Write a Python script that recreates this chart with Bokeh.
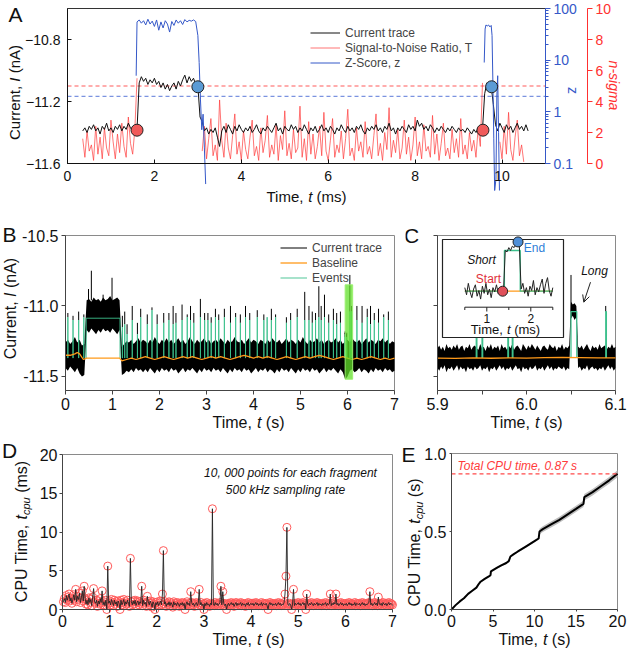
import math
import numpy as np
from bokeh.plotting import figure
from bokeh.layouts import column, row
from bokeh.models import (Range1d, LinearAxis, LogAxis, LogScale, FixedTicker, Label,
                          Legend, LegendItem, PrintfTickFormatter, CustomJSTickFormatter,
                          Arrow, OpenHead)
from bokeh.embed import file_html
from bokeh.resources import INLINE

FONT = "Liberation Sans"
BLACK = "#111111"
RED = "#ff3030"
BLUE = "#3558c8"
ORANGE = "#ff9a1a"
GREEN = "#3cc08c"

# ---------------------------------------------------------------- data
# A: one fragment, current / SNR sampled every 0.05 ms starting at 0.35 ms
A_T0, A_DT = 0.35, 0.05
A_current = [
    -11.39, -11.37, -11.40, -11.36, -11.38, -11.35, -11.39, -11.37, -11.41, -11.36,
    -11.38, -11.34, -11.39, -11.37, -11.40, -11.36, -11.38, -11.35, -11.39, -11.36,
    -11.38, -11.34, -11.37, -11.39, -11.38,
    -11.38,
    -11.08, -11.04, -11.07, -11.05, -11.09, -11.06, -11.08, -11.05, -11.09, -11.07,
    -11.11, -11.08, -11.12, -11.09, -11.13, -11.10, -11.08, -11.12, -11.07, -11.10,
    -11.06, -11.03, -11.08, -11.04, -11.07, -11.05, -11.09,
    -11.10, -11.30,
    -11.33, -11.39, -11.37, -11.41, -11.38, -11.40, -11.37, -11.43, -11.49, -11.39,
    -11.36, -11.40, -11.35, -11.38, -11.41, -11.36, -11.39, -11.35, -11.38, -11.40,
    -11.37, -11.39, -11.36, -11.40, -11.38, -11.35, -11.39, -11.41, -11.37, -11.39,
    -11.36, -11.38, -11.40, -11.37, -11.34, -11.39, -11.37, -11.41, -11.36, -11.38,
    -11.39, -11.35, -11.38, -11.36, -11.40, -11.37, -11.39, -11.35, -11.38, -11.41,
    -11.37, -11.39, -11.36, -11.40, -11.38, -11.35, -11.39, -11.37, -11.40, -11.36,
    -11.38, -11.41, -11.37, -11.39, -11.35, -11.38, -11.40, -11.36, -11.39, -11.37,
    -11.40, -11.36, -11.38, -11.35, -11.39, -11.41, -11.37, -11.39, -11.36, -11.38,
    -11.35, -11.39, -11.37, -11.40, -11.36, -11.38, -11.34, -11.39, -11.37, -11.41,
    -11.37, -11.39, -11.36, -11.38, -11.40, -11.35, -11.38, -11.36, -11.39, -11.32,
    -11.36, -11.34, -11.38, -11.36, -11.39, -11.35, -11.37, -11.40, -11.37, -11.39,
    -11.36, -11.38, -11.40, -11.37, -11.39, -11.36, -11.38, -11.40, -11.37, -11.39,
    -11.38, -11.40, -11.37, -11.39, -11.41, -11.38, -11.40, -11.37, -11.39,
    -11.38, -11.15, -11.08, -11.09, -11.10, -11.22, -11.35, -11.39, -11.34, -11.37,
    -11.40, -11.35, -11.38, -11.36, -11.40, -11.37, -11.34, -11.38, -11.36, -11.39,
    -11.35, -11.39,
]
A_snr = ([
    1.6, 0.4, 2.1, 0.8, 1.2, 0.2, 2.4, 0.6, 1.7, 0.3,
    2.3, 1.0, 0.5, 2.8, 1.4, 0.3, 1.9, 0.7, 2.6, 1.1,
    0.4, 3.0, 1.3, 0.6, 2.2,
    5.5] + [None] * 29 + [
    0.8, 2.4, 0.3, 1.6, 2.9, 0.5, 1.2, 0.2, 4.1, 1.5,
    0.4, 2.6, 1.0, 0.3, 1.8, 3.2, 0.6, 1.4, 0.2, 2.1,
    0.9, 0.3, 1.7, 2.8, 0.5, 1.1, 0.2, 2.3, 0.7, 1.5,
    3.1, 0.4, 1.2, 0.6, 2.5, 0.2, 1.8, 0.9, 3.4, 0.5,
    1.3, 0.3, 2.2, 0.7, 1.0, 3.7, 0.4, 1.6, 0.2, 2.7,
    0.6, 1.9, 0.3, 1.1, 2.4, 0.5, 3.3, 0.8, 0.2, 1.5,
    2.9, 0.4, 1.2, 0.7, 2.1, 0.3, 1.6, 3.5, 0.5, 1.0,
    0.2, 2.3, 0.8, 1.4, 0.4, 2.7, 0.6, 1.1, 0.3, 1.8,
    3.2, 0.5, 1.3, 0.2, 2.0, 0.9, 3.6, 0.4, 1.5, 0.7,
    2.2, 0.3, 1.0, 2.8, 0.6, 1.7, 0.2, 1.2, 3.0, 0.5,
    1.4, 0.3, 2.5, 0.8, 1.1, 0.4, 3.1, 0.6, 1.9, 0.2,
    1.3, 2.6, 0.5, 1.0, 0.3, 2.2, 0.7, 1.6, 0.4, 2.9,
    0.6, 1.2, 0.3, 2.0, 0.8, 1.5, 0.4, 2.3, 1.1,
    5.2] + [None] * 7 + [
    1.4, 0.3, 2.4, 0.6, 3.3, 0.9, 0.2, 1.7, 2.8, 0.5, 1.2,
    0.1, None, None])
A_z_t = [1.58, 1.60, 1.65, 1.70, 1.75, 1.80, 1.85, 1.90, 1.95, 2.00, 2.05, 2.10, 2.15,
         2.20, 2.25, 2.30, 2.35, 2.40, 2.45, 2.50, 2.55, 2.60, 2.65, 2.70, 2.75, 2.80,
         2.85, 2.90, 2.95, 3.00, 3.03, 3.06, 3.09, 3.12, 3.15, 3.18, None,
         9.59, 9.61, 9.63, 9.66, 9.69, 9.72, 9.75, 9.77, 9.79, 9.81, 9.83, 9.86, 9.88,
         9.90, 9.92, 9.94]
A_z = [5.0, 55, 60, 52, 58, 48, 62, 50, 57, 45, 60, 38, 55, 42, 58, 50, 35, 56, 47, 60,
       52, 58, 49, 61, 55, 59, 57, 60, 56, 30, 9, 1.7, 0.45, 0.9, 0.2, 0.04, None,
       9, 40, 48, 46, 48, 44, 47, 30, 3.5, 0.3, 0.03, 0.05, 2, 5, 0.4, 0.03]
A_start_t, A_start_i = [1.60, 9.56], [-11.385, -11.385]
A_end_t, A_end_i = [3.00, 9.76], [-11.105, -11.105]
A_SNR_THRESHOLD = 5.0
A_Z_THRESHOLD = 2.0

# B: 7 s record, envelope of the current band every 0.05 s
B_DT = 0.05
B_hi = [
    -11.26, -11.24, -11.27, -11.25, -11.22, -11.26, -11.24, -11.28, -11.27,
    -10.96, -10.95, -10.97, -10.94, -10.96, -10.95, -10.97, -10.94, -10.96, -10.95,
    -10.93, -10.96, -10.95, -10.94, -10.96,
    -11.29, -11.27, -11.25, -11.26, -11.24, -11.27, -11.25, -11.23, -11.26, -11.24,
    -11.25, -11.27, -11.24, -11.26, -11.22, -11.25, -11.27, -11.24, -11.26, -11.23,
    -11.26, -11.24, -11.27, -11.25, -11.23, -11.26, -11.24, -11.27, -11.25, -11.22,
    -11.25, -11.27, -11.24, -11.26, -11.25, -11.23, -11.26, -11.24, -11.27, -11.25,
    -11.24, -11.26, -11.23, -11.25, -11.27, -11.24, -11.26, -11.25, -11.22, -11.25,
    -11.26, -11.24, -11.27, -11.25, -11.23, -11.26, -11.24, -11.25, -11.27, -11.24,
    -11.25, -11.27, -11.24, -11.26, -11.23, -11.25, -11.26, -11.24, -11.27, -11.25,
    -11.23, -11.26, -11.24, -11.25, -11.27, -11.24, -11.26, -11.22, -11.25, -11.27,
    -11.24, -11.26, -11.25, -11.23, -11.26, -11.24, -11.27, -11.25, -11.24, -11.26,
    -11.25, -11.23, -11.26, -11.24, -11.27, -11.25, -11.24, -11.26, -11.23, -11.25,
    -11.26, -11.24, -11.27, -11.25, -11.23, -11.26, -11.24, -11.25, -11.27, -11.24,
    -11.25, -11.23, -11.26, -11.24, -11.27, -11.25, -11.26,
]
B_lo = [
    -11.44, -11.46, -11.43, -11.45, -11.47, -11.44, -11.48, -11.50, -11.49,
    -11.17, -11.19, -11.16, -11.18, -11.20, -11.17, -11.19, -11.16, -11.18, -11.17,
    -11.19, -11.16, -11.18, -11.20, -11.17,
    -11.49, -11.48, -11.46, -11.47, -11.45, -11.47, -11.44, -11.46, -11.45, -11.47,
    -11.45, -11.47, -11.44, -11.46, -11.48, -11.45, -11.47, -11.44, -11.46, -11.45,
    -11.47, -11.44, -11.46, -11.45, -11.48, -11.46, -11.44, -11.47, -11.45, -11.46,
    -11.44, -11.46, -11.48, -11.45, -11.47, -11.44, -11.46, -11.45, -11.47, -11.44,
    -11.46, -11.45, -11.47, -11.44, -11.46, -11.48, -11.45, -11.47, -11.44, -11.46,
    -11.45, -11.47, -11.44, -11.46, -11.45, -11.48, -11.46, -11.44, -11.47, -11.45,
    -11.46, -11.44, -11.47, -11.45, -11.46, -11.48, -11.45, -11.47, -11.44, -11.46,
    -11.45, -11.47, -11.44, -11.46, -11.48, -11.45, -11.47, -11.44, -11.46, -11.45,
    -11.47, -11.44, -11.46, -11.45, -11.48, -11.46, -11.44, -11.47, -11.45, -11.46,
    -11.44, -11.46, -11.48, -11.45, -11.47, -11.52, -11.50, -11.46, -11.45, -11.47,
    -11.46, -11.44, -11.47, -11.45, -11.46, -11.48, -11.45, -11.47, -11.44, -11.46,
    -11.45, -11.47, -11.44, -11.46, -11.45, -11.47, -11.46,
]
B_base_t = [0.0, 0.10, 0.20, 0.25, 0.30, 0.38, 0.45, 1.15] + [round(1.2 + 0.1 * k, 2) for k in range(59)]
B_base = [-11.35, -11.35, -11.34, -11.33, -11.34, -11.38, -11.37, -11.37,
          -11.39, -11.38, -11.37, -11.38, -11.37, -11.36, -11.37, -11.38, -11.37, -11.36,
          -11.37, -11.38, -11.37, -11.36, -11.37, -11.36, -11.37, -11.38, -11.37, -11.36,
          -11.37, -11.36, -11.37, -11.38, -11.37, -11.36, -11.35, -11.36, -11.37, -11.36,
          -11.37, -11.36, -11.37, -11.38, -11.37, -11.36, -11.37, -11.38, -11.37, -11.36,
          -11.37, -11.36, -11.35, -11.36, -11.37, -11.38, -11.37, -11.36, -11.37, -11.38,
          -11.37, -11.38, -11.37, -11.36, -11.37, -11.38, -11.37, -11.38, -11.37]
# detected events: start time (s), event level and highest current (nA)
B_ev_t = [0.05, 0.16, 0.28, 0.39, 0.44,
          1.21, 1.26, 1.31, 1.42, 1.53, 1.60, 1.74, 1.84, 1.95,
          2.09, 2.20, 2.29, 2.35, 2.48, 2.59, 2.66, 2.73, 2.87, 2.96,
          3.03, 3.10, 3.19, 3.26, 3.38, 3.51, 3.62, 3.72, 3.83, 3.92,
          4.08, 4.22, 4.29, 4.38, 4.47, 4.70, 4.79, 4.93,
          5.09, 5.18, 5.25, 5.32, 5.39, 5.44, 5.51, 5.60, 5.70, 5.77, 5.85,
          5.9435, 5.950, 5.979, 5.984,
          6.050, 6.089,
          6.20, 6.31, 6.42, 6.49, 6.57, 6.66, 6.77, 6.87]
B_ev_level = [-11.08, -11.10, -11.10, -11.08, -11.087,
              -11.15, -11.13, -11.20, -11.10, -11.20, -11.08, -11.13, -11.03, -11.13,
              -11.12, -11.10, -11.13, -11.12, -11.10, -11.08, -11.10, -11.12, -11.08, -11.10,
              -11.10, -11.12, -11.08, -11.10, -11.08, -11.12, -11.08, -11.12, -11.08, -11.10,
              -11.08, -11.10, -11.08, -11.10, -11.08, -11.12, -11.10, -11.08,
              -11.10, -11.10, -11.12, -11.10, -11.08, -11.10, -11.08, -11.12, -11.10, -11.13, -11.12,
              -11.22, -11.20, -11.22, -11.22,
              -11.04, -11.04,
              -11.10, -11.12, -11.08, -11.13, -11.10, -11.12, -11.08, -11.10]
B_ev_peak = [-11.05, -11.07, -11.04, -11.06, None,
             -11.07, -11.04, -11.13, -11.00, -11.12, -11.02, -11.06, -11.01, -11.06,
             -11.05, -11.05, -11.00, -11.05, -10.99, -11.06, -11.00, -11.05, -10.95, -11.05,
             -11.05, -11.08, -11.02, -11.06, -11.02, -11.00, -11.05, -11.06, -11.00, -11.05,
             -11.03, -11.06, -11.08, -11.02, -11.06, -11.08, -11.05, -11.02,
             -10.90, -11.00, -11.04, -11.05, -10.86, -11.00, -10.92, -11.06, -11.02, -11.05, -11.04,
             -11.19, -11.18, -11.20, -11.19,
             -10.78, -11.00,
             -11.00, -11.00, -11.02, -11.00, -11.05, -11.02, -11.06, -11.04]
B_SHORT_DUR = 0.0008
B_long_dur = {0.44: 0.72, 6.050: 0.0065}
B_EVENT_BASE = -11.37
B_block_spike_t = [0.49, 0.55, 0.80, 0.99]
B_block_spike_top = [-10.88, -10.75, -10.92, -10.80]
B_BLOCK_TOP = -10.96
B_zoom_window = (5.95, 6.11)
B_zoom_current = (-11.52, -10.85)

# C: 5.9-6.1 s, current band every 2 ms
C_T0, C_DT = 5.90, 0.002
C_hi = [
    -11.30, -11.28, -11.31, -11.29, -11.32, -11.27, -11.30, -11.29, -11.31, -11.28,
    -11.30, -11.27, -11.31, -11.29, -11.28, -11.32, -11.29, -11.30, -11.27, -11.31,
    -11.29, -11.28, -11.30, -11.31, -11.27, -11.30, -11.29, -11.32, -11.28, -11.30,
    -11.27, -11.31, -11.29, -11.30, -11.28, -11.32, -11.27, -11.30, -11.29, -11.31,
    -11.28, -11.30, -11.27, -11.31, -11.29, -11.28, -11.30, -11.32, -11.27, -11.29,
    -11.31, -11.28, -11.30, -11.27, -11.29, -11.31, -11.28, -11.30, -11.32, -11.29,
    -11.28, -11.30, -11.31, -11.27, -11.29, -11.30, -11.28, -11.32, -11.29, -11.30,
    -11.27, -11.31, -11.29, -11.30, -11.28, -10.97, -10.99, -10.98, -11.00, -11.29,
    -11.30, -11.28, -11.31, -11.29, -11.27, -11.30, -11.32, -11.28, -11.30, -11.29,
    -11.31, -11.27, -11.30, -11.29, -11.28, -11.31, -11.29, -11.30, -11.27, -11.30,
    -11.29,
]
C_lo = [
    -11.44, -11.46, -11.43, -11.45, -11.42, -11.47, -11.44, -11.45, -11.43, -11.46,
    -11.44, -11.42, -11.46, -11.43, -11.45, -11.44, -11.47, -11.43, -11.45, -11.44,
    -11.46, -11.43, -11.45, -11.44, -11.42, -11.46, -11.44, -11.45, -11.43, -11.47,
    -11.44, -11.45, -11.43, -11.46, -11.44, -11.42, -11.45, -11.43, -11.46, -11.44,
    -11.45, -11.43, -11.46, -11.44, -11.42, -11.45, -11.44, -11.47, -11.43, -11.45,
    -11.44, -11.46, -11.43, -11.45, -11.44, -11.42, -11.46, -11.44, -11.45, -11.43,
    -11.46, -11.44, -11.42, -11.45, -11.43, -11.46, -11.44, -11.45, -11.43, -11.44,
    -11.45, -11.43, -11.46, -11.44, -11.45, -11.09, -11.07, -11.10, -11.08, -11.44,
    -11.43, -11.46, -11.44, -11.45, -11.42, -11.46, -11.44, -11.43, -11.45, -11.44,
    -11.46, -11.44, -11.45, -11.43, -11.46, -11.44, -11.42, -11.45, -11.43, -11.46,
    -11.44,
]
C_base_t = [5.90, 5.92, 5.94, 5.96, 5.98, 6.00, 6.02, 6.04, 6.06, 6.08, 6.10]
C_base = [-11.370, -11.372, -11.369, -11.371, -11.368, -11.370, -11.366, -11.365,
          -11.367, -11.369, -11.368]
# inset: one short event, time in ms
INS_T0, INS_DT = 0.5, 0.04
INS_current = [
    -11.36, -11.41, -11.33, -11.39, -11.43, -11.37, -11.34, -11.42, -11.38, -11.44,
    -11.35, -11.40, -11.33, -11.41, -11.37, -11.43, -11.36, -11.39, -11.34, -11.40,
    -11.38, -11.39, -11.38,
    -11.10, -11.11, -11.08, -11.10, -11.07, -11.08, -11.06, -11.05, -11.07,
    -11.37, -11.33, -11.40, -11.36, -11.42, -11.35, -11.38, -11.31, -11.41, -11.36,
    -11.39, -11.34, -11.30, -11.40, -11.33, -11.29, -11.38, -11.42, -11.36,
]
INS_BASE = -11.385
INS_EV = dict(start=1.40, end=1.76, level=-11.10)
INS_start = (1.36, -11.385)
INS_end = (1.71, -11.04)
INS_TICKS = [1, 2]
INS_MINOR = [0.5, 1.5, 2.5]

# D: CPU time per 20 ms fragment (ms)
D_FRAG = 0.02
D_cpu_ms = [
    1.0, 1.4, 0.9, 1.8, 1.2, 1.6, 2.0, 1.1, 1.5, 0.8, 1.3, 1.9, 1.2, 2.6, 1.0, 1.7, 1.3, 2.1, 0.9, 1.5, 2.4, 1.1, 3.0, 1.4, 0.7,
    1.2, 0.6, 1.5, 0.9, 1.3, 0.5, 1.6, 2.7, 1.0, 0.8, 1.2, 0.4, 1.1, 0.7, 1.4, 0.9, 2.4, 0.6, 1.0, 0.5, 1.2, 0.0, 5.6, 0.8, 1.1,
    0.6, 1.3, 0.9, 0.5, 1.2, 0.7, 1.0, 0.4, 1.1, 0.8, 0.0, 1.2, 0.6, 0.9, 1.3, 0.5, 1.0, 0.7, 1.2, 0.8, 0.4, 6.6, 1.0, 0.6, 1.1,
    0.7, 1.2, 0.5, 0.9, 1.1, 0.6, 1.0, 0.8, 3.0, 0.5, 1.2, 0.7, 0.9, 0.4, 1.7, 1.0, 0.6, 1.1, 0.8, 0.3, 1.0, 0.7, 0.0, 0.9, 0.6,
    1.0, 0.5, 0.8, 1.1, 0.6, 2.0, 7.6, 0.7, 1.0, 0.4, 0.8, 0.6, 1.0, 0.5, 0.9, 0.7, 0.3, 1.0, 0.6, 0.8, 0.5, 0.9, 0.7, 0.4, 0.8,
    0.6, 0.9, 0.5, 0.8, 0.0, 0.7, 1.0, 0.6, 0.8, 0.5, 2.3, 0.9, 0.6, 0.8, 0.4, 0.7, 0.9, 0.5, 0.8, 2.6, 0.6, 0.9, 0.5, 0.7, 0.0,
    0.8, 0.5, 0.9, 0.6, 0.7, 0.4, 0.8, 0.6, 13.0, 0.7, 0.5, 0.9, 0.6, 0.8, 0.5, 0.7, 0.9, 3.0, 0.6, 2.3, 0.8, 0.5, 0.7, 0.0, 0.6,
    0.8, 0.5, 0.7, 0.9, 0.6, 0.8, 0.4, 0.7, 0.9, 0.5, 0.8, 0.6, 0.7, 0.9, 0.5, 0.8, 0.6, 0.7, 0.4, 0.8, 0.6, 0.9, 0.5, 0.7, 0.8,
    0.6, 0.8, 0.5, 0.7, 0.9, 0.6, 0.8, 0.5, 0.7, 0.6, 0.9, 0.5, 0.8, 0.7, 0.6, 0.8, 0.5, 0.0, 0.7, 0.9, 0.6, 0.8, 0.5, 0.7, 0.6,
    0.8, 0.5, 0.7, 0.9, 0.6, 0.8, 0.5, 0.7, 0.6, 0.9, 2.0, 4.3, 10.6, 0.7, 0.5, 0.8, 0.6, 0.0, 0.7, 2.6, 0.5, 0.8, 0.6, 0.7, 0.9,
    0.6, 0.8, 0.5, 0.7, 0.9, 0.6, 0.8, 0.0, 2.0, 0.7, 0.5, 0.8, 0.6, 0.9, 0.7, 0.5, 0.8, 0.6, 0.7, 0.9, 0.5, 0.8, 0.6, 0.7, 0.5,
    0.8, 0.6, 0.7, 0.9, 0.5, 0.8, 0.6, 0.7, 2.0, 0.5, 0.8, 0.6, 0.9, 0.7, 2.0, 0.6, 0.8, 0.5, 0.7, 0.9, 0.6, 0.8, 0.5, 0.7, 0.6,
    0.8, 0.5, 0.7, 0.9, 0.6, 0.8, 0.5, 0.7, 0.6, 0.9, 0.5, 0.8, 0.7, 0.6, 0.8, 0.5, 0.7, 0.9, 0.6, 0.8, 0.5, 0.7, 0.6, 0.8, 0.9,
    2.3, 0.6, 0.8, 0.5, 0.7, 0.9, 0.6, 0.8, 0.5, 1.6, 0.7, 0.6, 0.8, 0.5, 0.9, 0.7, 0.6, 0.8, 0.5, 0.7, 0.9, 0.6, 0.8, 0.7, 0.6,
]

# E: cumulative CPU time (s) for a 20 s record
E_t = [0, 0.5, 1.0, 1.5, 2.0, 2.5, 3.0, 3.3, 3.5, 4.0, 4.5, 4.7, 4.75, 5.5, 6.0, 6.6, 6.9,
       7.1, 7.5, 8.0, 9.0, 10.0, 10.5, 10.6, 11.0, 12.0, 13.0, 14.0, 15.0, 15.9, 16.0,
       17.0, 18.0, 19.0, 20.0]
E_cpu = [0.000, 0.028, 0.052, 0.072, 0.100, 0.120, 0.140, 0.165, 0.178, 0.196, 0.212,
         0.220, 0.245, 0.268, 0.283, 0.298, 0.310, 0.340, 0.355, 0.372, 0.405, 0.438,
         0.455, 0.500, 0.515, 0.545, 0.575, 0.610, 0.645, 0.677, 0.720, 0.752, 0.790,
         0.828, 0.870]
E_err = [0.003, 0.004, 0.005, 0.005, 0.005, 0.005, 0.006, 0.006, 0.006, 0.006, 0.006,
         0.006, 0.006, 0.006, 0.006, 0.006, 0.006, 0.006, 0.006, 0.006, 0.007, 0.007,
         0.007, 0.018, 0.018, 0.019, 0.019, 0.020, 0.020, 0.020, 0.021, 0.021, 0.021,
         0.022, 0.022]
TOTAL_CPU = 0.87

# ---------------------------------------------------------------- layout helpers
# page pixel boxes: figure (left, top, width, height) and its plot box (left, top, width, height)
LAYOUT = {
    "A": ((0, 0, 627, 212), (67, 8, 478, 155)),
    "B": ((0, 212, 405, 225), (65, 235, 329, 155)),
    "C": ((405, 212, 222, 225), (437, 235, 178, 155)),
    "D": ((0, 437, 400, 213), (62, 454, 330, 155)),
    "E": ((400, 437, 227, 213), (451, 453, 166, 156)),
}


class PixelMap:
    """Linear map from page pixels to data units of one x/y range pair."""

    def __init__(self, px0, py0, sx, sy, x0, y0, xn="default", yn="default"):
        self.px0, self.py0, self.sx, self.sy = px0, py0, sx, sy
        self.x0, self.y0, self.xn, self.yn = x0, y0, xn, yn

    def x(self, px):
        return self.x0 + (px - self.px0) / self.sx

    def y(self, py):
        return self.y0 + (self.py0 - py) / self.sy


def make_fig(key, xr, yr, box_color="#8a8a8a"):
    """The canvas is all frame; axes sit at fixed locations round the plot box."""
    (ox, oy, w, h), (fl, ft, fw, fh) = LAYOUT[key]
    sx, sy = fw / (xr[1] - xr[0]), fh / (yr[1] - yr[0])
    fr = PixelMap(fl, ft + fh, sx, sy, xr[0], yr[0])
    p = figure(width=w, height=h, output_backend="svg", toolbar_location=None,
               x_range=Range1d(fr.x(ox), fr.x(ox + w)), y_range=Range1d(fr.y(oy + h), fr.y(oy)),
               min_border=0)
    p.grid.visible = False
    p.outline_line_color = None
    p.background_fill_color = "white"
    p.border_fill_color = "white"
    p.xaxis.fixed_location = yr[0]
    p.xaxis.bounds = tuple(xr)
    p.yaxis.fixed_location = xr[0]
    p.yaxis.bounds = tuple(yr)
    p.quad(left=xr[0], right=xr[1], bottom=yr[0], top=yr[1], fill_color=None,
           line_color=box_color, line_width=1)
    return p, fr


def style_axes(p, size, tick_in=0, tick_out=4, standoff=3, color="#444444"):
    for ax in list(p.xaxis) + list(p.yaxis):
        ax.major_label_text_font = FONT
        ax.major_label_text_font_size = f"{size}px"
        ax.major_label_text_color = "#111111"
        ax.major_tick_in = tick_in
        ax.major_tick_out = tick_out
        ax.minor_tick_in = 0
        ax.minor_tick_out = 0
        ax.major_label_standoff = standoff
        ax.axis_line_color = color
        ax.major_tick_line_color = color


ADV = {' ': 278, ',': 278, '.': 278, '(': 333, ')': 333, '-': 333, 'A': 667, 'C': 722,
       'I': 278, 'P': 667, 'T': 611, 'U': 722, 'a': 556, 'c': 500, 'e': 556, 'i': 222,
       'm': 833, 'n': 556, 'p': 556, 'r': 333, 's': 500, 't': 278, 'u': 556}


def text_w(s, size):
    return sum(ADV.get(ch, 556) for ch in s) * size / 1000.0


def rich_label(p, fr, pieces, cx, cy, vertical=False, color="#111111"):
    """Axis title made of runs (text, italic, size, shift) centred on (cx, cy) page px."""
    total = sum(text_w(t, s) for t, _, s, _ in pieces)
    off = 0.0
    for text, italic, size, shift in pieces:
        lead = len(text) - len(text.lstrip(' '))
        off += text_w(' ' * lead, size)
        text = text.lstrip(' ')
        if vertical:
            px, py = cx + shift, cy + total / 2 - off
        else:
            px, py = cx - total / 2 + off, cy + shift
        p.add_layout(Label(x=fr.x(px), y=fr.y(py), text=text,
                           angle=math.pi / 2 if vertical else 0.0,
                           text_font=FONT, text_font_size=f"{size}px",
                           text_font_style="italic" if italic else "normal",
                           text_color=color, text_align="left", text_baseline="middle",
                           x_range_name=fr.xn, y_range_name=fr.yn))
        off += text_w(text, size)


def plain_label(p, fr, text, px, py, size=12, color="#111111", italic=False, align="center",
                angle=0.0):
    p.add_layout(Label(x=fr.x(px), y=fr.y(py), text=text, text_font=FONT,
                       text_font_size=f"{size}px", text_color=color,
                       text_font_style="italic" if italic else "normal",
                       text_align=align, text_baseline="middle", angle=angle,
                       x_range_name=fr.xn, y_range_name=fr.yn))


def panel_letter(p, fr, letter, px, py):
    plain_label(p, fr, letter, px, py, size=21)


def time_label(unit, size):
    return [("Time, ", False, size, 0), ("t", True, size, 0), (f" ({unit})", False, size, 0)]


def cpu_label(unit, size):
    return [("CPU Time, ", False, size, 0), ("t", True, size, 0),
            ("cpu", True, round(size * 0.7), 4.5), (f" ({unit})", False, size, 0)]


def current_label(size):
    return [("Current, ", False, size, 0), ("I", True, size, 0), (" (nA)", False, size, 0)]


def event_path(ts, levels, base, lo=-math.inf, hi=math.inf):
    xs, ys = [], []
    for t, lv in zip(ts, levels):
        if not lo <= t <= hi:
            continue
        d = B_long_dur.get(t, B_SHORT_DUR)
        xs += [t, t, t + d, t + d, float("nan")]
        ys += [base, lv, lv, base, float("nan")]
    return xs, ys


def nan_list(v):
    return np.array([np.nan if a is None else a for a in v], dtype=float)


# ---------------------------------------------------------------- panel A
A_X, A_Y = (0, 11), (-11.6, -10.6)
pA, fA = make_fig("A", A_X, A_Y, box_color="#333333")
pA.xaxis.ticker = FixedTicker(ticks=[0, 2, 4, 6, 8, 10])
pA.yaxis.ticker = FixedTicker(ticks=[-11.6, -11.2, -10.8])
style_axes(pA, 14, tick_in=4, tick_out=0, standoff=7, color="#111111")

(aox, aoy, aw, ah), (afl, aft, afw, afh) = LAYOUT["A"]
Z_RANGE = (0.1, 100)
SNR_RANGE = (0, 10)
z_dec = math.log10(Z_RANGE[1] / Z_RANGE[0]) / afh
snr_per_px = (SNR_RANGE[1] - SNR_RANGE[0]) / afh
pA.extra_y_ranges = {
    "z": Range1d(Z_RANGE[0] * 10 ** (-(aoy + ah - aft - afh) * z_dec),
                 Z_RANGE[1] * 10 ** ((aft - aoy) * z_dec)),
    "snr": Range1d(SNR_RANGE[0] - (aoy + ah - aft - afh) * snr_per_px,
                   SNR_RANGE[1] + (aft - aoy) * snr_per_px),
}
pA.extra_y_scales = {"z": LogScale()}
Z_TICKS = [0.1, 1, 10, 100]
Z_MINOR = [m * 10.0 ** e for e in (-1, 0, 1) for m in range(2, 10)]
z_axis = LogAxis(y_range_name="z", ticker=FixedTicker(ticks=Z_TICKS, minor_ticks=Z_MINOR),
                 formatter=CustomJSTickFormatter(code="return String(tick);"),
                 fixed_location=A_X[1], bounds=Z_RANGE,
                 axis_line_color=BLUE, major_tick_line_color=BLUE, minor_tick_line_color=BLUE,
                 major_tick_out=5, major_tick_in=0, minor_tick_out=3, minor_tick_in=0,
                 major_label_text_color=BLUE, major_label_text_font=FONT,
                 major_label_text_font_size="14px", major_label_standoff=3)
pA.add_layout(z_axis, "right")
snr_axis = LinearAxis(y_range_name="snr", ticker=FixedTicker(ticks=[0, 2, 4, 6, 8, 10]),
                      fixed_location=fA.x(587), bounds=SNR_RANGE,
                      axis_line_color=RED, major_tick_line_color=RED,
                      major_tick_out=5, major_tick_in=0, minor_tick_out=0, minor_tick_in=0,
                      major_label_text_color=RED, major_label_text_font=FONT,
                      major_label_text_font_size="14px", major_label_standoff=3)
pA.add_layout(snr_axis, "right")

tA = [A_T0 + A_DT * k for k in range(len(A_current))]
pA.segment(x0=[A_X[0]], y0=[A_SNR_THRESHOLD], x1=[A_X[1]], y1=[A_SNR_THRESHOLD],
           y_range_name="snr", line_color="#ff5a5a", line_dash="4 3", line_width=1.2)
pA.segment(x0=[A_X[0]], y0=[A_Z_THRESHOLD], x1=[A_X[1]], y1=[A_Z_THRESHOLD],
           y_range_name="z", line_color="#7b93e0", line_dash="4 3", line_width=1.2)
r_snr = pA.line(tA, nan_list(A_snr), y_range_name="snr", line_color="#ff3a3a",
                line_width=1, line_alpha=0.7)
r_cur = pA.line(tA, A_current, line_color=BLACK, line_width=1)
r_z = pA.line(nan_list(A_z_t), nan_list(A_z), y_range_name="z", line_color=BLUE, line_width=1)
pA.scatter(A_start_t, A_start_i, size=12, fill_color="#f05a5a", line_color="#222222", line_width=1)
pA.scatter(A_end_t, A_end_i, size=12, fill_color="#5b9bd5", line_color="#222222", line_width=1)
pA.add_layout(Legend(items=[LegendItem(label="Current trace", renderers=[r_cur]),
                            LegendItem(label="Signal-to-Noise Ratio, T", renderers=[r_snr]),
                            LegendItem(label="Z-Score, z", renderers=[r_z])],
                     location=(310, 142), label_text_font=FONT, label_text_font_size="12px",
                     glyph_width=30, glyph_height=15, label_height=15, label_standoff=5,
                     spacing=0, padding=0, margin=0, border_line_alpha=0,
                     background_fill_alpha=0))
plain_label(pA, fA, "z", 572, 90, size=14, color=BLUE, angle=-math.pi / 2)
plain_label(pA, fA, "n-sigma", 613, 85, size=14, color=RED, italic=True, angle=-math.pi / 2)
rich_label(pA, fA, current_label(15), 14, 92, vertical=True)
rich_label(pA, fA, time_label("ms", 15), 306, 196)
panel_letter(pA, fA, "A", 15, 14)

# ---------------------------------------------------------------- panel B
pB, fB = make_fig("B", (0, 7), (-11.6, -10.5))
pB.xaxis.ticker = FixedTicker(ticks=list(range(8)))
pB.yaxis.ticker = FixedTicker(ticks=[-11.5, -11.0, -10.5])
pB.yaxis.formatter = PrintfTickFormatter(format="%.1f")
style_axes(pB, 16)

tB = [round(B_DT * k, 3) for k in range(len(B_hi))]
pB.varea(x=tB, y1=B_lo, y2=B_hi, fill_color="black")
tip_t = [t for t, pk in zip(B_ev_t, B_ev_peak) if pk is not None]
tip_lo = [lv for lv, pk in zip(B_ev_level, B_ev_peak) if pk is not None]
tip_hi = [pk for pk in B_ev_peak if pk is not None]
rB_cur = pB.segment(x0=tip_t, y0=tip_lo, x1=tip_t, y1=tip_hi, line_color="black", line_width=1)
pB.segment(x0=B_block_spike_t, y0=[B_BLOCK_TOP] * len(B_block_spike_t), x1=B_block_spike_t,
           y1=B_block_spike_top, line_color="black", line_width=1)
gx, gy = event_path(B_ev_t, B_ev_level, B_EVENT_BASE)
rB_ev = pB.line(gx, gy, line_color=GREEN, line_width=1, line_alpha=0.9)
rB_base = pB.line(B_base_t, B_base, line_color=ORANGE, line_width=1.3)
pB.quad(left=B_zoom_window[0], right=B_zoom_window[1], bottom=B_zoom_current[0],
        top=B_zoom_current[1], fill_color="#62e02a", fill_alpha=0.75,
        line_color="#9cf070", line_width=1)
pB.add_layout(Legend(items=[LegendItem(label="Current trace", renderers=[rB_cur]),
                            LegendItem(label="Baseline", renderers=[rB_base]),
                            LegendItem(label="Events", renderers=[rB_ev])],
                     location=(280, 152), label_text_font=FONT, label_text_font_size="12px",
                     glyph_width=27, glyph_height=15, label_height=15, label_standoff=5,
                     spacing=0, padding=0, margin=0, border_line_alpha=0,
                     background_fill_alpha=0))
rich_label(pB, fB, current_label(16), 10, 308, vertical=True)
rich_label(pB, fB, time_label("s", 16), 248, 422)
panel_letter(pB, fB, "B", 9, 234)

# ---------------------------------------------------------------- panel C
C_X = (5.9, 6.1)
pC, fC = make_fig("C", C_X, (-11.6, -10.5))
pC.xaxis.ticker = FixedTicker(ticks=[5.9, 6.0, 6.1], minor_ticks=[5.95, 6.05])
pC.xaxis.formatter = PrintfTickFormatter(format="%.1f")
pC.yaxis.ticker = FixedTicker(ticks=[-11.5, -11.0, -10.5])
pC.yaxis.formatter = CustomJSTickFormatter(code="return '';")
style_axes(pC, 16)
pC.xaxis.minor_tick_out = 4
pC.xaxis.minor_tick_line_color = "#444444"

tC = [C_T0 + C_DT * k for k in range(len(C_hi))]
pC.varea(x=tC, y1=C_lo, y2=C_hi, fill_color="black")
in_c = [k for k, t in enumerate(tip_t) if C_X[0] <= t <= C_X[1]]
pC.segment(x0=[tip_t[k] for k in in_c], y0=[tip_lo[k] for k in in_c],
           x1=[tip_t[k] for k in in_c], y1=[tip_hi[k] for k in in_c],
           line_color="black", line_width=1)
cgx, cgy = event_path(B_ev_t, B_ev_level, B_EVENT_BASE, *C_X)
pC.line(cgx, cgy, line_color=GREEN, line_width=1.2)
pC.line(C_base_t, C_base, line_color=ORANGE, line_width=1.3)

# inset drawn on its own ranges (time in ms) inside panel C
(cox, coy, cw, chh), _ = LAYOUT["C"]
ins = PixelMap(464.3, 290.0, 44.0, 142.9, INS_T0, -11.38, "ins", "ins")
pC.extra_x_ranges = {"ins": Range1d(ins.x(cox), ins.x(cox + cw))}
pC.extra_y_ranges = {"ins": Range1d(ins.y(coy + chh), ins.y(coy))}
pC.quad(left=ins.x(442), right=ins.x(563), bottom=ins.y(337), top=ins.y(239),
        fill_color="white", line_color="#222222", line_width=1.2,
        x_range_name="ins", y_range_name="ins")
t_ins = [INS_T0 + INS_DT * k for k in range(len(INS_current))]
pC.line([t_ins[0], t_ins[-1]], [INS_BASE, INS_BASE], line_color=ORANGE, line_width=1.3,
        x_range_name="ins", y_range_name="ins")
pC.line([t_ins[0], INS_EV["start"], INS_EV["start"], INS_EV["end"], INS_EV["end"], t_ins[-1]],
        [INS_BASE, INS_BASE, INS_EV["level"], INS_EV["level"], INS_BASE, INS_BASE],
        line_color=GREEN, line_width=1.3, x_range_name="ins", y_range_name="ins")
pC.line(t_ins, INS_current, line_color="#222222", line_width=1,
        x_range_name="ins", y_range_name="ins")
pC.scatter([INS_start[0]], [INS_start[1]], size=10, fill_color="#e0505a", line_color="#222222",
           x_range_name="ins", y_range_name="ins")
pC.scatter([INS_end[0]], [INS_end[1]], size=10, fill_color="#4f8fd8", line_color="#222222",
           x_range_name="ins", y_range_name="ins")
y_ax = ins.y(306.7)
pC.segment(x0=[INS_MINOR[0]], y0=[y_ax], x1=[INS_MINOR[-1]], y1=[y_ax], line_color="#222222",
           x_range_name="ins", y_range_name="ins")
pC.segment(x0=INS_TICKS + INS_MINOR, y0=[y_ax] * 5, x1=INS_TICKS + INS_MINOR,
           y1=[ins.y(311)] * 2 + [ins.y(309.5)] * 3, line_color="#222222",
           x_range_name="ins", y_range_name="ins")
for tk in INS_TICKS:
    plain_label(pC, ins, str(tk), ins.px0 + (tk - INS_T0) * ins.sx, 318, size=12)
rich_label(pC, ins, time_label("ms", 13), 505, 329)
plain_label(pC, fC, "Short", 481, 259, size=12, italic=True)
plain_label(pC, fC, "Start", 488, 278, size=12, color="#e0303a")
plain_label(pC, fC, "End", 534, 247, size=12, color="#2f7fd8")
plain_label(pC, fC, "Long", 594, 270, size=12, italic=True)
pC.add_layout(Arrow(end=OpenHead(size=7, line_width=1, line_color="#222222"),
                    x_start=fC.x(590), y_start=fC.y(281.7), x_end=fC.x(583.3), y_end=fC.y(301.7),
                    line_color="#222222", line_width=1))
rich_label(pC, fC, time_label("s", 16), 526, 422)
panel_letter(pC, fC, "C", 411, 235)

# ---------------------------------------------------------------- panel D
pD, fD = make_fig("D", (0, 7), (0, 20))
pD.xaxis.ticker = FixedTicker(ticks=list(range(8)))
pD.yaxis.ticker = FixedTicker(ticks=[0, 5, 10, 15, 20])
style_axes(pD, 16, tick_out=3, standoff=2)
tD = [round(D_FRAG * (k + 1), 3) for k in range(len(D_cpu_ms))]
pD.scatter(tD, D_cpu_ms, size=8, fill_color=None, line_color="#ff5a5a", line_width=1)
pD.line(tD, D_cpu_ms, line_color="#222222", line_width=0.9)
plain_label(pD, fD, "10, 000 points for each fragment", 290, 472, size=12, italic=True)
plain_label(pD, fD, "500 kHz sampling rate", 285, 489, size=12, italic=True)
rich_label(pD, fD, cpu_label("ms", 16), 21, 531, vertical=True)
rich_label(pD, fD, time_label("s", 16), 248, 639)
panel_letter(pD, fD, "D", 9, 450)

# ---------------------------------------------------------------- panel E
E_X = (0, 20)
pE, fE = make_fig("E", E_X, (0, 1))
pE.xaxis.ticker = FixedTicker(ticks=[0, 5, 10, 15, 20])
pE.yaxis.ticker = FixedTicker(ticks=[0, 0.5, 1.0])
pE.yaxis.formatter = PrintfTickFormatter(format="%.1f")
style_axes(pE, 16, tick_out=2, standoff=3)
e_lo = [v - e for v, e in zip(E_cpu, E_err)]
e_hi = [v + e for v, e in zip(E_cpu, E_err)]
pE.varea(x=E_t, y1=e_lo, y2=e_hi, fill_color="#bdbdbd")
pE.line(E_t, E_cpu, line_color="black", line_width=2)
pE.segment(x0=[E_X[0]], y0=[TOTAL_CPU], x1=[E_X[1]], y1=[TOTAL_CPU],
           line_color="#ff4a4a", line_dash="4 3", line_width=1.2)
plain_label(pE, fE, f"Total CPU time, {TOTAL_CPU} s", 457, 465, size=12, color="#ff3b3b",
            italic=True, align="left")
rich_label(pE, fE, cpu_label("s", 16), 414, 542, vertical=True)
rich_label(pE, fE, time_label("s", 16), 534, 639)
panel_letter(pE, fE, "E", 408, 454)

layout = column(row(pA), row(pB, pC), row(pD, pE), spacing=0)
open("out.html", "w").write(file_html(layout, INLINE))
